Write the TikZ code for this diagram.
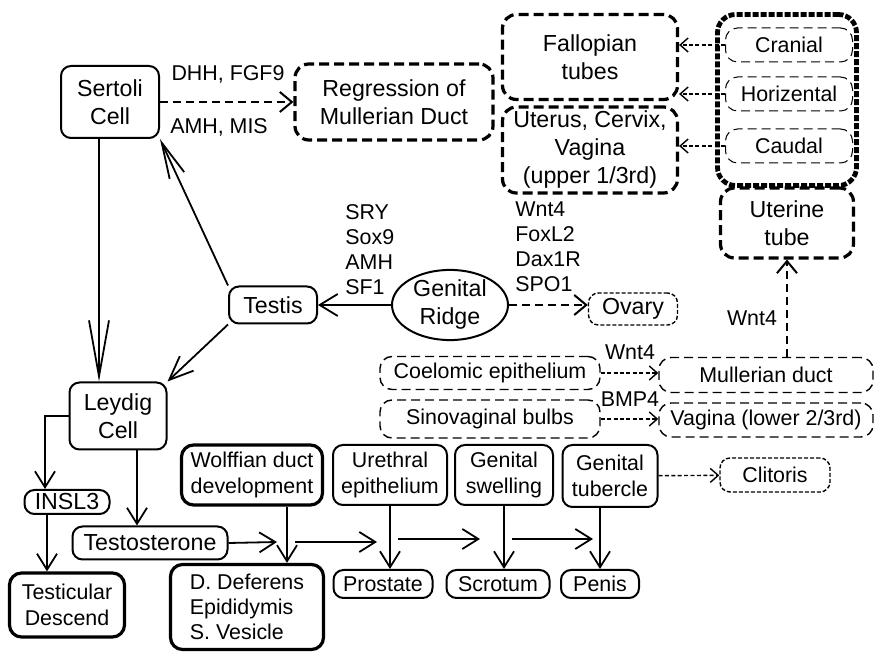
\documentclass[tikz,border=0pt]{standalone}
\usepackage{fontspec}
\setmainfont{Liberation Sans}
\usepackage{tikz}
\usetikzlibrary{arrows.meta, shapes.geometric}

\newcommand{\bigtxt}{\fontsize{11.6}{14}\selectfont}
\newcommand{\smalltxt}{\fontsize{10.7}{13}\selectfont}
\newcommand{\listtxt}{\fontsize{10.7}{12.5}\selectfont}

\begin{document}
\begin{tikzpicture}[x=0.5pt, y=-0.5pt,
            every node/.style={font=\smalltxt, align=center, inner sep=1pt},
            bigtext/.style={font=\bigtxt},
            sz/.style 2 args={minimum width=#1, minimum height=#2},
            solidbox/.style={draw, rounded corners=5pt, line width=1pt},
            heavybox/.style={draw, rounded corners=6pt, line width=1.6pt},
            dashbox/.style={draw, rounded corners=7pt, line width=1.6pt, dash pattern=on 5pt off 2.5pt},
            lightbox/.style={draw, rounded corners=6pt, line width=0.7pt, dash pattern=on 4.5pt off 2.5pt},
            dotbox/.style={draw, rounded corners=5pt, line width=0.7pt, dash pattern=on 2pt off 1pt},
            barb/.style 2 args={-{Straight Barb[length=#1, width=#2]}, line width=0.9pt},
            dasharrow/.style={-{Straight Barb[length=6pt, width=10pt]}, line width=1pt, dash pattern=on 4pt off 2.5pt},
            dotarrow/.style={-{Straight Barb[length=4pt, width=7pt]}, line width=0.7pt, dash pattern=on 2pt off 1.2pt}]
            \useasboundingbox (0,0) rectangle (875,652);
            % Sertoli cell and duct regression
            \node[solidbox, bigtext, sz={49pt}{36pt}] (sertoli) at (110,102) {Sertoli\\Cell};
            \node[dashbox, bigtext, sz={99pt}{38pt}] (regress) at (394,102) {Regression of\\Mullerian Duct};
            \node (dhh) at (228,74) {DHH, FGF9};
            \node (amh) at (219,127) {AMH, MIS};
            \draw[dasharrow] (sertoli) -- (regress);
            % Genital ridge splits
            \node[draw, ellipse, line width=1pt, bigtext, inner sep=0pt, sz={58pt}{35pt}] (ridge) at (450,305) {Genital\\Ridge};
            \node[solidbox, bigtext, sz={44pt}{18.5pt}] (testis) at (273,305) {Testis};
            \node[dotbox, bigtext, sz={44.5pt}{16pt}] (ovary) at (633,309) {Ovary};
            \node[anchor=west, align=left, font=\listtxt] (malegenes) at (343,250) {SRY\\Sox9\\AMH\\SF1};
            \node[anchor=west, align=left, font=\listtxt] (femgenes) at (513,247) {Wnt4\\FoxL2\\Dax1R\\SPO1};
            \draw[barb={9pt}{11pt}] (ridge) -- (testis);
            \draw[dasharrow] (ridge.east) -- (ridge.east -| ovary.west);
            \draw[barb={18pt}{8pt}] (testis.north west) -- (sertoli.south east);
            % Leydig cell branch
            \node[solidbox, bigtext, sz={48.5pt}{33.5pt}] (leydig) at (118,416) {Leydig\\Cell};
            \node[solidbox, bigtext, sz={42.5pt}{12pt}] (insl) at (67,502) {INSL3};
            \node[heavybox, sz={57.5pt}{32pt}] (descend) at (67,605) {Testicular\\Descend};
            \node[solidbox, bigtext, sz={77.5pt}{16.5pt}] (testo) at (150,543) {Testosterone};
            \draw[barb={12pt}{10pt}] (testis.south west) -- (leydig.north east);
            \draw[barb={28pt}{10pt}] ([xshift=-5.5pt]sertoli.south) -- ([xshift=-5.5pt]sertoli.south |- leydig.north);
            \draw[barb={8pt}{10pt}] (leydig.west) -| ([xshift=-11pt]insl.north);
            \draw[barb={8pt}{10pt}] ([xshift=-10pt]insl.south) -- ([xshift=-10pt]insl.south |- descend.north);
            \draw[barb={8pt}{10pt}] ([xshift=9.5pt]leydig.south) -- ([xshift=9.5pt]leydig.south |- testo.north);
            % external and accessory organs
            \node[heavybox, sz={70.5pt}{30pt}] (wolff) at (252,475) {Wolffian duct\\development};
            \node[heavybox, align=left, font=\listtxt, sz={76.5pt}{42.5pt}] (defer) at (247,607) {D. Deferens\\Epididymis\\S. Vesicle};
            \node[solidbox, sz={57pt}{30pt}] (ureth) at (390,475) {Urethral\\epithelium};
            \node[solidbox, sz={49.5pt}{14pt}] (prost) at (383,584) {Prostate};
            \node[solidbox, sz={49pt}{30pt}] (swell) at (504,475) {Genital\\swelling};
            \node[solidbox, sz={51.5pt}{14pt}] (scrot) at (498,584) {Scrotum};
            \node[solidbox, sz={47.5pt}{31pt}] (tuber) at (610,476) {Genital\\tubercle};
            \node[solidbox, sz={39pt}{14pt}] (penis) at (600,584) {Penis};
            \node[dotbox, sz={55pt}{17pt}] (clit) at (775,475) {Clitoris};
            \draw[barb={8pt}{10pt}] ([xshift=17.5pt]wolff.south) -- ([xshift=17.5pt]wolff.south |- defer.north);
            \draw[barb={8pt}{10pt}] (ureth.south) -- (ureth.south |- prost.north);
            \draw[barb={8pt}{10pt}] (swell.south) -- (swell.south |- scrot.north);
            \draw[barb={8pt}{10pt}] ([xshift=-5pt]tuber.south) -- ([xshift=-5pt]tuber.south |- penis.north);
            \draw[dotarrow] (tuber) -- (clit);
            % testosterone acting along the row
            \coordinate (t1) at (277,542);
            \coordinate (t2) at (295,542);
            \coordinate (t3) at (377,542);
            \coordinate (t4) at (398,539);
            \coordinate (t5) at (480,539);
            \coordinate (t6) at (512,539);
            \coordinate (t7) at (593,539);
            \draw[barb={8pt}{10pt}] (testo.east) -- (t1);
            \draw[barb={8pt}{10pt}] (t2) -- (t3);
            \draw[barb={8pt}{10pt}] (t4) -- (t5);
            \draw[barb={8pt}{10pt}] (t6) -- (t7);
            % Mullerian derivatives
            \node[dashbox, bigtext, sz={87.5pt}{42.5pt}] (fallop) at (590,57) {Fallopian\\tubes};
            \node[dashbox, bigtext, sz={87.5pt}{43pt}] (uterus) at (590,150) {Uterus, Cervix,\\Vagina\\(upper 1/3rd)};
            \node[draw, rounded corners=9pt, line width=2.4pt, dash pattern=on 3pt off 1pt, sz={69.5pt}{85.5pt}] (segments) at (787,100) {};
            \node[lightbox, line width=0.5pt, sz={63.5pt}{17pt}] (cranial) at (789,45) {Cranial};
            \node[lightbox, line width=0.5pt, sz={63.5pt}{17pt}] (horiz) at (789,94) {Horizental};
            \node[lightbox, line width=0.5pt, sz={63.5pt}{17pt}] (caudal) at (789,146) {Caudal};
            \draw[dotarrow] (cranial.west) -- (cranial.west -| fallop.east);
            \draw[dotarrow] (horiz.west) -- (horiz.west -| fallop.east);
            \draw[dotarrow] (caudal.west) -- (caudal.west -| uterus.east);
            \node[dashbox, bigtext, sz={66.5pt}{35pt}] (uterine) at (787,223) {Uterine\\tube};
            \node[lightbox, sz={107pt}{17.5pt}] (mull) at (766,375) {Mullerian duct};
            \node[lightbox, sz={107pt}{17pt}] (vag) at (766,420) {Vagina (lower 2/3rd)};
            \node[lightbox, sz={110pt}{16.5pt}] (coel) at (490,373) {Coelomic epithelium};
            \node[lightbox, sz={110pt}{19pt}] (sino) at (490,419) {Sinovaginal bulbs};
            \draw[dasharrow] (mull.north -| uterine.south) -- (uterine.south);
            \node (wntup) at (752,318) {Wnt4};
            \draw[dotarrow] (coel.east) -- (coel.east -| mull.west);
            \node (wntmull) at (630,352) {Wnt4};
            \draw[dotarrow] (sino.east) -- (sino.east -| vag.west);
            \node (bmp) at (630,399) {BMP4};
\end{tikzpicture}
\end{document}
